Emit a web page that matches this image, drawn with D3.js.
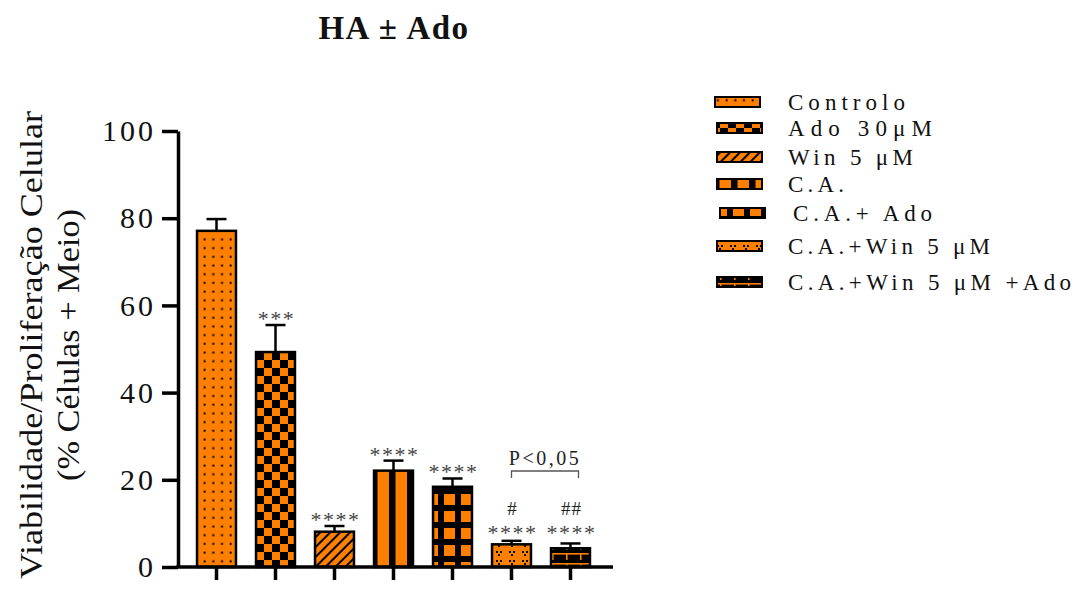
<!DOCTYPE html>
<html><head><meta charset="utf-8">
<script src="https://cdn.jsdelivr.net/npm/d3@7"></script>
<style>
body{margin:0;background:#fff;}
</style></head>
<body>
<svg id="c" width="1080" height="596"></svg>
<script>
const categories = ["Controlo","Ado 30μM","Win 5 μM","C.A.","C.A.+ Ado","C.A.+Win 5 μM","C.A.+Win 5 μM +Ado"];
const means = [77.1, 49.3, 8.1, 22.1, 18.4, 5.2, 4.3];
const errTops = [79.8, 55.5, 9.4, 24.4, 20.3, 6.0, 5.4];
const stars = ["", "***", "****", "****", "****", "****", "****"];
const hashes = ["", "", "", "", "", "#", "##"];
const yTicks = [0, 20, 40, 60, 80, 100];
const title = "HA ± Ado";
const yLabel1 = "Viabilidade/Proliferação Celular";
const yLabel2 = "(% Células + Meio)";
const bracketLabel = "P<0,05";

const SERIF = "'Liberation Serif','DejaVu Serif',serif";
const OR = "#FF8000";
const svg = d3.select("#c");
const defs = svg.append("defs");

function pat(id, w, h, draw, transform){
  const p = defs.append("pattern").attr("id", id).attr("patternUnits","userSpaceOnUse")
    .attr("width", w).attr("height", h);
  if (transform) p.attr("patternTransform", transform);
  draw(p);
}
pat("p0", 8.7, 8.7, p => {
  p.append("rect").attr("width",8.7).attr("height",8.7).attr("fill",OR);
  p.append("rect").attr("x",3.5).attr("y",3.5).attr("width",2).attr("height",2).attr("fill","#000");
});
pat("p1", 16, 16, p => {
  p.append("rect").attr("width",16).attr("height",16).attr("fill",OR);
  p.append("rect").attr("width",8).attr("height",8).attr("fill","#000");
  p.append("rect").attr("x",8).attr("y",8).attr("width",8).attr("height",8).attr("fill","#000");
});
pat("p2", 7, 7, p => {
  p.append("rect").attr("width",7).attr("height",7).attr("fill",OR);
  p.append("rect").attr("width",2).attr("height",7).attr("fill","#000");
}, "rotate(45)");
pat("p3", 18, 10, p => {
  p.append("rect").attr("width",18).attr("height",10).attr("fill",OR);
  p.append("rect").attr("x",11).attr("width",6.5).attr("height",10).attr("fill","#000");
});
pat("p4", 17, 17, p => {
  p.append("rect").attr("width",17).attr("height",17).attr("fill","#000");
  p.append("rect").attr("x",2).attr("y",1).attr("width",11).attr("height",11).attr("fill",OR);
});
pat("p5", 13, 9, p => {
  p.append("rect").attr("width",13).attr("height",9).attr("fill",OR);
  [[2,2],[6,2],[4,5]].forEach(d => p.append("rect").attr("x",d[0]).attr("y",d[1]).attr("width",2).attr("height",2).attr("fill","#000"));
});
pat("p6", 14, 10, p => {
  p.append("rect").attr("width",14).attr("height",10).attr("fill","#000");
  p.append("rect").attr("y",3).attr("width",14).attr("height",1.6).attr("fill",OR);
  p.append("rect").attr("x",6).attr("y",3).attr("width",1.6).attr("height",10).attr("fill",OR);
});

const y = d3.scaleLinear().domain([0,100]).range([567,131]);
const x = d3.scaleBand().domain(categories).range([187,600]).paddingInner(0.34).paddingOuter(0.17);

svg.append("g").selectAll("rect").data(categories).join("rect")
  .attr("x", d => x(d)).attr("width", x.bandwidth())
  .attr("y", (d,i) => y(means[i])).attr("height", (d,i) => y(0) - y(means[i]))
  .attr("fill", (d,i) => `url(#p${i})`).attr("stroke","#000").attr("stroke-width",2.5);

const eg = svg.append("g").attr("stroke","#000").attr("stroke-width",2.5);
categories.forEach((c,i) => {
  const cx = x(c) + x.bandwidth()/2;
  eg.append("line").attr("x1",cx).attr("x2",cx).attr("y1",y(means[i])).attr("y2",y(errTops[i]));
  eg.append("line").attr("x1",cx-10).attr("x2",cx+10).attr("y1",y(errTops[i])).attr("y2",y(errTops[i]));
});

const ya = svg.append("g").attr("transform","translate(178,0)")
  .call(d3.axisLeft(y).tickValues(yTicks).tickSize(16).tickSizeOuter(0).tickPadding(6));
ya.attr("font-family", SERIF);
ya.select(".domain").attr("stroke-width",3.5);
ya.selectAll(".tick line").attr("stroke-width",3.5);
ya.selectAll(".tick text").attr("font-size",30).attr("fill","#111").attr("letter-spacing",3)
  .attr("font-family",SERIF);

const xa = svg.append("g").attr("transform","translate(0,567)")
  .call(d3.axisBottom(x).tickSize(13).tickSizeOuter(0).tickFormat(""));
xa.select(".domain").remove();
xa.selectAll(".tick line").attr("stroke-width",3.5);
svg.append("line").attr("x1",176).attr("x2",613).attr("y1",567).attr("y2",567)
  .attr("stroke","#000").attr("stroke-width",3.5);

const ag = svg.append("g").attr("fill","#444").attr("font-size",22).attr("text-anchor","middle")
  .attr("letter-spacing",1.5).attr("font-family",SERIF);
categories.forEach((c,i) => {
  const cx = x(c) + x.bandwidth()/2;
  if (stars[i]) {
    const yy = (i >= 5) ? 540 : y(errTops[i]) + 1;
    ag.append("text").attr("x",cx+1).attr("y",yy).text(stars[i]);
  }
  if (hashes[i]) {
    svg.append("text").attr("x",cx+1).attr("y",515).attr("text-anchor","middle").attr("font-family",SERIF)
      .attr("font-size",19).attr("fill","#222").attr("letter-spacing",1).text(hashes[i]);
  }
});
const bx1 = x(categories[5]) + x.bandwidth()/2, bx2 = x(categories[6]) + x.bandwidth()/2 + 8;
svg.append("path").attr("d",`M${bx1},478V471H${bx2}V478`).attr("fill","none").attr("stroke","#555").attr("stroke-width",1.3);
svg.append("text").attr("x",(bx1+bx2)/2).attr("y",465).attr("text-anchor","middle").attr("font-family",SERIF)
  .attr("font-size",20).attr("fill","#222").attr("letter-spacing",2.5).text(bracketLabel);

svg.append("text").attr("x",394).attr("y",39).attr("text-anchor","middle").attr("font-family",SERIF)
  .attr("font-size",33).attr("font-weight","bold").attr("fill","#111").attr("letter-spacing",1.5).text(title);

const yl = svg.append("g").attr("transform","translate(0,345) rotate(-90)").attr("font-family",SERIF);
yl.append("text").attr("x",0).attr("y",42).attr("text-anchor","middle").attr("font-size",31).attr("fill","#111")
  .attr("textLength",468).attr("lengthAdjust","spacingAndGlyphs").text(yLabel1);
yl.append("text").attr("x",0).attr("y",79).attr("text-anchor","middle").attr("font-size",31).attr("fill","#111")
  .attr("textLength",272).attr("lengthAdjust","spacingAndGlyphs").text(yLabel2);

const legY = [102, 128, 157, 184, 213, 246, 282];
const legX = [715, 717, 717, 717, 720, 717, 717];
const legTextX = [788, 788, 788, 788, 793, 788, 788];
const legTextEnd = [905, 932, 913, 844, 932, 990, 1071];
const lg = svg.append("g").attr("font-family",SERIF);
categories.forEach((c,i) => {
  lg.append("rect").attr("x",legX[i]).attr("y",legY[i]-5).attr("width",45).attr("height",10)
    .attr("fill",`url(#p${i})`).attr("stroke","#000").attr("stroke-width",2);
  lg.append("text").attr("x", legTextX[i]).attr("y",legY[i]+8).attr("font-size",23)
    .attr("fill","#111").attr("textLength", legTextEnd[i]-legTextX[i]).attr("lengthAdjust","spacing").text(c);
});
</script>
</body></html>
